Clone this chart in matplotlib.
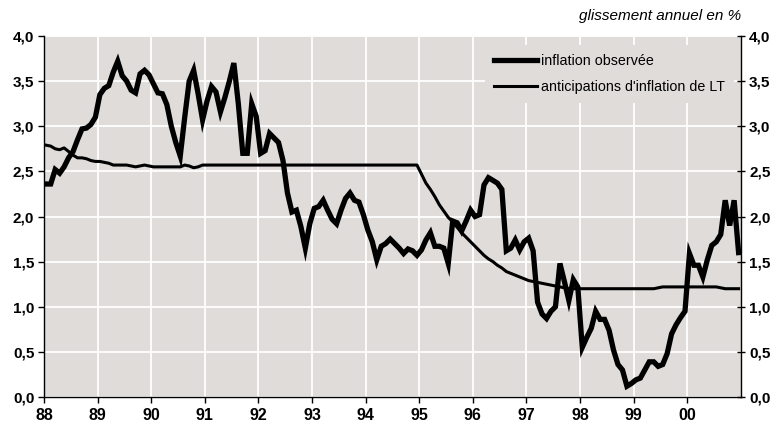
import matplotlib
matplotlib.use("Agg")
import matplotlib.pyplot as plt
import numpy as np

plt.rcParams["font.family"] = ["Liberation Sans", "DejaVu Sans"]

# monthly series, Jan 1988 -> Dec 2000
start_year = 1988
inflation = [
    # 1988
    2.36, 2.36, 2.52, 2.48, 2.55, 2.65, 2.72, 2.85, 2.97, 2.98, 3.02, 3.10,
    # 1989
    3.35, 3.42, 3.45, 3.60, 3.72, 3.56, 3.50, 3.40, 3.37, 3.58, 3.62, 3.57,
    # 1990
    3.47, 3.37, 3.36, 3.24, 3.00, 2.82, 2.67, 3.10, 3.50, 3.62, 3.36, 3.07,
    # 1991
    3.28, 3.44, 3.38, 3.16, 3.32, 3.50, 3.70, 3.25, 2.70, 2.70, 3.25, 3.11,
    # 1992
    2.70, 2.73, 2.92, 2.87, 2.82, 2.62, 2.26, 2.05, 2.07, 1.89, 1.65, 1.92,
    # 1993
    2.09, 2.11, 2.18, 2.07, 1.97, 1.92, 2.07, 2.20, 2.26, 2.18, 2.16, 2.02,
    # 1994
    1.85, 1.72, 1.52, 1.67, 1.70, 1.75, 1.70, 1.65, 1.59, 1.64, 1.62, 1.57,
    # 1995
    1.63, 1.74, 1.82, 1.67, 1.67, 1.65, 1.48, 1.95, 1.93, 1.84, 1.95, 2.07,
    # 1996
    2.00, 2.02, 2.35, 2.43, 2.40, 2.37, 2.30, 1.62, 1.65, 1.74, 1.63, 1.72,
    # 1997
    1.76, 1.62, 1.05, 0.92, 0.87, 0.95, 1.00, 1.48, 1.28, 1.07, 1.30, 1.22,
    # 1998
    0.55, 0.66, 0.76, 0.95, 0.86, 0.86, 0.74, 0.52, 0.36, 0.30, 0.12, 0.15,
    # 1999
    0.19, 0.21, 0.30, 0.39, 0.39, 0.34, 0.36, 0.48, 0.70, 0.80, 0.88, 0.95,
    # 2000
    1.59, 1.46, 1.46, 1.33, 1.52, 1.68, 1.72, 1.80, 2.18, 1.90, 2.18, 1.60,
]
anticipations = [
    # 1988
    2.79, 2.78, 2.75, 2.74, 2.76, 2.72, 2.68, 2.65, 2.65, 2.64, 2.62, 2.61,
    # 1989
    2.61, 2.60, 2.59, 2.57, 2.57, 2.57, 2.57, 2.56, 2.55, 2.56, 2.57, 2.56,
    # 1990
    2.55, 2.55, 2.55, 2.55, 2.55, 2.55, 2.55, 2.57, 2.56, 2.54, 2.55, 2.57,
    # 1991
    2.57, 2.57, 2.57, 2.57, 2.57, 2.57, 2.57, 2.57, 2.57, 2.57, 2.57, 2.57,
    # 1992
    2.57, 2.57, 2.57, 2.57, 2.57, 2.57, 2.57, 2.57, 2.57, 2.57, 2.57, 2.57,
    # 1993
    2.57, 2.57, 2.57, 2.57, 2.57, 2.57, 2.57, 2.57, 2.57, 2.57, 2.57, 2.57,
    # 1994
    2.57, 2.57, 2.57, 2.57, 2.57, 2.57, 2.57, 2.57, 2.57, 2.57, 2.57, 2.57,
    # 1995
    2.47, 2.37, 2.30, 2.22, 2.13, 2.06, 1.99, 1.94, 1.88, 1.82, 1.77, 1.72,
    # 1996
    1.67, 1.62, 1.57, 1.53, 1.50, 1.46, 1.43, 1.39, 1.37, 1.35, 1.33, 1.31,
    # 1997
    1.29, 1.28, 1.27, 1.26, 1.25, 1.24, 1.23, 1.22, 1.21, 1.20, 1.20, 1.20,
    # 1998
    1.20, 1.20, 1.20, 1.20, 1.20, 1.20, 1.20, 1.20, 1.20, 1.20, 1.20, 1.20,
    # 1999
    1.20, 1.20, 1.20, 1.20, 1.20, 1.21, 1.22, 1.22, 1.22, 1.22, 1.22, 1.22,
    # 2000
    1.22, 1.22, 1.22, 1.22, 1.22, 1.22, 1.22, 1.21, 1.20, 1.20, 1.20, 1.20,
]
year_labels = ["88", "89", "90", "91", "92", "93", "94", "95", "96", "97", "98", "99", "00"]
y_ticks = [0.0, 0.5, 1.0, 1.5, 2.0, 2.5, 3.0, 3.5, 4.0]

months = start_year + (np.arange(len(inflation)) + 0.5) / 12
years = start_year + np.arange(len(year_labels))

def fr(v):
    return f"{v:.1f}".replace(".", ",")

fig = plt.figure(figsize=(7.79, 4.30), dpi=100)
ax = fig.add_axes([0.0565, 0.0767, 0.8945, 0.8396])
bg = "#dfdcda"
ax.set_facecolor(bg)

ax.plot(months, inflation, color="black", lw=3.8, solid_joinstyle="miter",
        label="inflation observée", zorder=3)
ax.plot(months, anticipations, color="black", lw=2.2,
        label="anticipations d'inflation de LT", zorder=3)

ax.set_xlim(start_year, start_year + len(year_labels))
ax.set_ylim(0, 4)
ax.set_xticks(years)
ax.set_xticklabels(year_labels, fontweight="bold", fontsize=11.5)
ax.set_yticks(y_ticks)
ax.set_yticklabels([fr(v) for v in y_ticks], fontweight="bold", fontsize=11)
ax.grid(True, color="white", lw=1.3)
ax.set_axisbelow(True)

for side in ["top", "right"]:
    ax.spines[side].set_visible(False)
ax.spines["left"].set_linewidth(1.0)
ax.spines["bottom"].set_linewidth(1.0)
ax.tick_params(axis="x", length=4, width=1, pad=4, colors="black")
ax.tick_params(axis="y", length=4, width=1, pad=3)

ax2 = ax.twinx()
ax2.set_ylim(0, 4)
ax2.set_yticks(y_ticks)
ax2.set_yticklabels([fr(v) for v in y_ticks], fontweight="bold", fontsize=11)
ax2.tick_params(axis="y", direction="inout", length=6, width=1, pad=3)
for side in ["top", "left", "bottom"]:
    ax2.spines[side].set_visible(False)
ax2.spines["right"].set_linewidth(1.0)

leg = ax.legend(loc="upper right", bbox_to_anchor=(1.0, 0.995), fontsize=10.3,
                frameon=True, facecolor=bg, edgecolor=bg, framealpha=1,
                handlelength=3.0, handletextpad=0.3, borderpad=0.6,
                labelspacing=0.9, fancybox=False)
leg.get_frame().set_linewidth(0)

fig.text(0.952, 0.978, "glissement annuel en %", ha="right", va="top",
         fontsize=11, style="italic")

fig.savefig("out.png", dpi=100)
